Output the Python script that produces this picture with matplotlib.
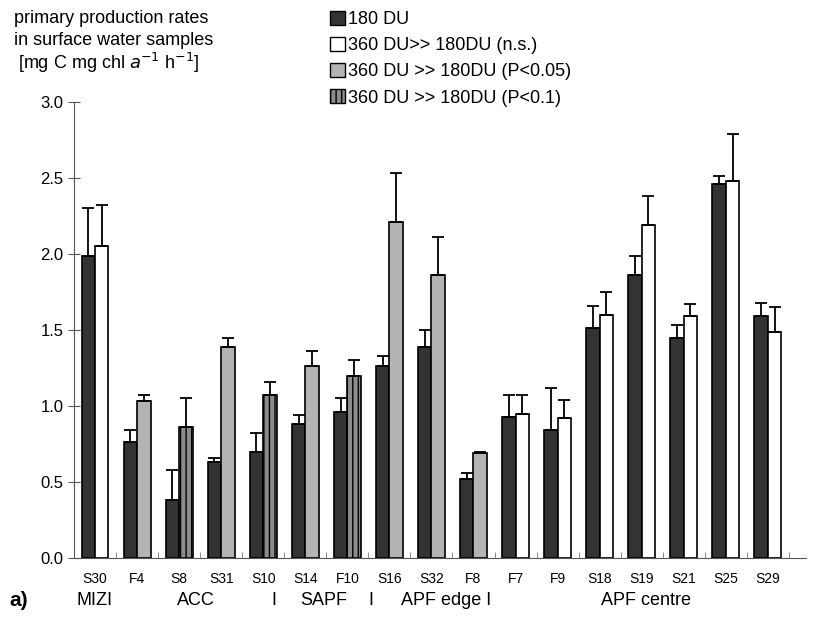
import numpy as np
import matplotlib
matplotlib.use('Agg')
import matplotlib.pyplot as plt
from matplotlib.patches import Patch

plt.rcParams['font.family'] = ['Liberation Sans', 'DejaVu Sans']

stations = ['S30', 'F4', 'S8', 'S31', 'S10', 'S14', 'F10', 'S16', 'S32',
            'F8', 'F7', 'F9', 'S18', 'S19', 'S21', 'S25', 'S29']
du180 = [1.99, 0.76, 0.38, 0.63, 0.70, 0.88, 0.96, 1.26, 1.39,
         0.52, 0.93, 0.84, 1.51, 1.86, 1.45, 2.46, 1.59]
du180_err = [0.31, 0.08, 0.20, 0.03, 0.12, 0.06, 0.09, 0.07, 0.11,
             0.04, 0.14, 0.28, 0.15, 0.13, 0.08, 0.05, 0.09]
du360 = [2.05, 1.03, 0.86, 1.39, 1.07, 1.26, 1.20, 2.21, 1.86,
         0.69, 0.95, 0.92, 1.60, 2.19, 1.59, 2.48, 1.49]
du360_err = [0.27, 0.04, 0.19, 0.06, 0.09, 0.10, 0.10, 0.32, 0.25,
             0.01, 0.12, 0.12, 0.15, 0.19, 0.08, 0.31, 0.16]
signif = ['ns', 'p05', 'p10', 'p05', 'p10', 'p05', 'p10', 'p05', 'p05',
          'p05', 'ns', 'ns', 'ns', 'ns', 'ns', 'ns', 'ns']
regions = ['MIZI', 'ACC', 'I', 'SAPF', 'I', 'APF edge I', 'APF centre']
region_pos = [0.0, 2.4, 4.25, 5.45, 6.55, 8.35, 13.1]

fill = {'ns': 'white', 'p05': '#b4b4b4', 'p10': '#8c8c8c'}
hatch = {'ns': None, 'p05': None, 'p10': '|||'}

fig = plt.figure(figsize=(8.13, 6.2), dpi=100)
ax = fig.add_axes([0.091, 0.1, 0.9, 0.7355])

x = np.arange(len(stations))
w = 0.32
ax.bar(x - w / 2, du180, w, color='#333333', edgecolor='black', lw=1.2,
       yerr=[np.zeros(len(x)), du180_err], capsize=4,
       error_kw=dict(ecolor='black', elinewidth=1.3, capthick=1.3))
for i in x:
    ax.bar(i + w / 2, du360[i], w, color=fill[signif[i]], hatch=hatch[signif[i]],
           edgecolor='black', lw=1.2,
           yerr=[[0], [du360_err[i]]], capsize=4,
           error_kw=dict(ecolor='black', elinewidth=1.3, capthick=1.3))

ax.set_ylim(0, 3.0)
ax.set_xlim(-0.5, 16.9)
ax.set_yticks(np.arange(0, 3.01, 0.5))
ax.set_yticklabels([f'{v:.1f}' for v in np.arange(0, 3.01, 0.5)], fontsize=12)
ax.set_xticks(x)
ax.set_xticklabels(stations, fontsize=10)
ax.tick_params(axis='x', length=0, pad=10)
ax.set_xticks(np.arange(-0.5, 17, 1), minor=True)
ax.tick_params(axis='x', which='minor', length=4, direction='in', color='#777777')
ax.tick_params(axis='y', length=8, direction='inout', color='#555555')
for s in ['top', 'right']:
    ax.spines[s].set_visible(False)
ax.spines['left'].set_color('#555555')
ax.spines['bottom'].set_color('#555555')

trans = ax.get_xaxis_transform()
for name, pos in zip(regions, region_pos):
    ax.text(pos, -0.093, name, transform=trans, ha='center', va='center', fontsize=13)
fig.text(0.012, 0.032, 'a)', fontsize=15, fontweight='bold', va='center')

fig.text(0.017, 0.97, 'primary production rates', fontsize=13, va='center')
fig.text(0.017, 0.935, 'in surface water samples', fontsize=13, va='center')
fig.text(0.022, 0.898, r'[mg C mg chl $\it{a}$$^{-1}$ h$^{-1}$]', fontsize=13, va='center')

handles = [
    Patch(facecolor='#333333', edgecolor='black', label='180 DU'),
    Patch(facecolor='white', edgecolor='black', label='360 DU>> 180DU (n.s.)'),
    Patch(facecolor=fill['p05'], edgecolor='black', label='360 DU >> 180DU (P<0.05)'),
    Patch(facecolor=fill['p10'], edgecolor='black', hatch='|||', label='360 DU >> 180DU (P<0.1)'),
]
fig.legend(handles=handles, loc='upper left', bbox_to_anchor=(0.393, 1.0),
           frameon=False, fontsize=13, handlelength=0.8, handleheight=0.8,
           handletextpad=0.2, labelspacing=0.5, borderaxespad=0.2)

fig.savefig('out.png', dpi=100)
